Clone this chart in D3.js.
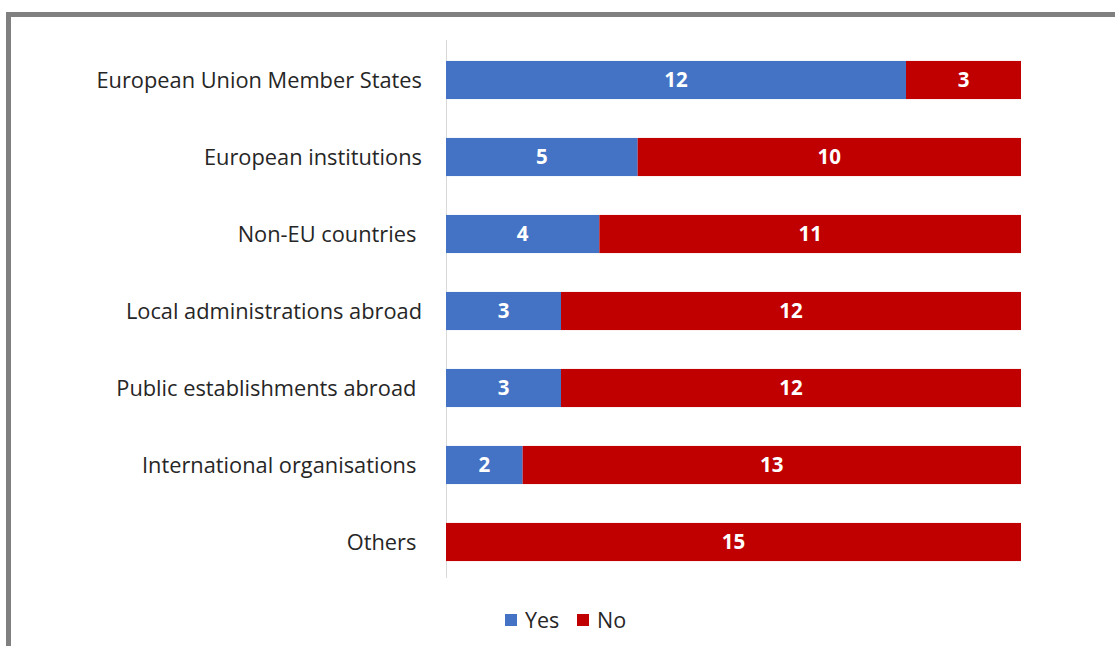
<!DOCTYPE html>
<html>
<head>
<meta charset="utf-8">
<script src="https://cdn.jsdelivr.net/npm/d3@7/dist/d3.min.js"></script>
<style>
  html, body { margin: 0; padding: 0; background: #fff; }
  svg { display: block; }
</style>
</head>
<body>
<div id="chart"></div>
<script>
// Stacked horizontal bar chart: Yes / No per category.

const categories = [
  "European Union Member States",
  "European institutions",
  "Non-EU countries ",
  "Local administrations abroad",
  "Public establishments abroad ",
  "International organisations ",
  "Others "
];
const yesValues = [12, 5, 4, 3, 3, 2, 0];
const noValues  = [3, 10, 11, 12, 12, 13, 15];
const seriesNames = ["Yes", "No"];
const seriesColors = ["#4472C4", "#C00000"];

const W = 1115, H = 646;
const FONT = "'Open Sans', 'Noto Sans', sans-serif";

const svg = d3.select("#chart").append("svg")
  .attr("width", W)
  .attr("height", H);

svg.append("rect").attr("width", W).attr("height", H).attr("fill", "#fff");

// outer frame (only top and left edges visible)
svg.append("path")
  .attr("d", `M8.5,${H} V14.5 H${W}`)
  .attr("fill", "none")
  .attr("stroke", "#808080")
  .attr("stroke-width", 5);

const rows = categories.map((c, i) => ({ cat: c, yes: yesValues[i], no: noValues[i] }));
const stack = d3.stack().keys(["yes", "no"])(rows);

const x = d3.scaleLinear().domain([0, 15]).range([446, 1021]);
const y = d3.scaleBand().domain(categories).range([41.5, 580.5]).paddingInner(0.505).paddingOuter(0.2525);

// vertical axis line
svg.append("line")
  .attr("x1", x(0) + 0.5).attr("x2", x(0) + 0.5)
  .attr("y1", 40).attr("y2", 578)
  .attr("stroke", "#d9d9d9").attr("stroke-width", 1);

const gBars = svg.append("g");
stack.forEach((layer, k) => {
  const g = gBars.append("g").attr("fill", seriesColors[k]);
  g.selectAll("rect")
    .data(layer.filter(d => d[1] - d[0] > 0))
    .join("rect")
    .attr("x", d => x(d[0]))
    .attr("y", d => y(d.data.cat))
    .attr("width", d => x(d[1]) - x(d[0]))
    .attr("height", y.bandwidth());

  g.selectAll("text")
    .data(layer.filter(d => d[1] - d[0] > 0))
    .join("text")
    .attr("x", d => (x(d[0]) + x(d[1])) / 2)
    .attr("y", d => y(d.data.cat) + y.bandwidth() / 2)
    .attr("dy", "0.36em")
    .attr("text-anchor", "middle")
    .attr("fill", "#fff")
    .attr("font-family", FONT)
    .attr("font-size", 20.5)
    .attr("font-weight", 700)
    .text(d => d[1] - d[0]);
});

// category labels
svg.append("g").selectAll("text")
  .data(categories)
  .join("text")
  .attr("x", 422)
  .attr("y", d => y(d) + y.bandwidth() / 2)
  .attr("dy", "0.35em")
  .attr("text-anchor", "end")
  .attr("fill", "#262626")
  .attr("font-family", FONT)
  .attr("font-size", 21.8)
  .style("white-space", "pre")
  .text(d => d);

// legend
const legend = svg.append("g").attr("transform", "translate(505,620)");
const legendX = [0, 72];
seriesNames.forEach((name, i) => {
  const g = legend.append("g").attr("transform", `translate(${legendX[i]},0)`);
  g.append("rect").attr("x", 0).attr("y", -6).attr("width", 12).attr("height", 12).attr("fill", seriesColors[i]);
  g.append("text")
    .attr("x", 20).attr("y", 0).attr("dy", "0.35em")
    .attr("fill", "#262626")
    .attr("font-family", FONT)
    .attr("font-size", 21.5)
    .text(name);
});
</script>
</body>
</html>
